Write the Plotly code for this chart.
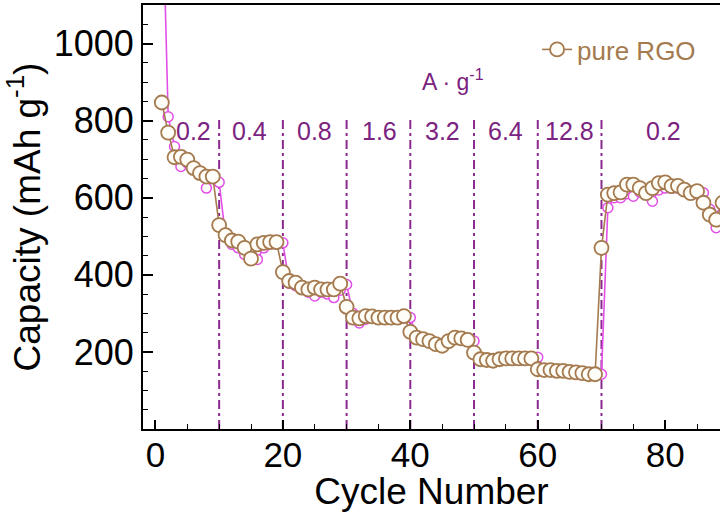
import plotly.graph_objects as go

# ---------------- data ----------------
cycles = list(range(1, 90))

pure_rgo = [847, 769, 705, 706, 699, 677, 664, 655, 655,
            529, 503, 489, 486, 470, 442, 479, 483, 485, 485,
            407, 384, 380, 367, 362, 367, 362, 362, 362, 377,
            317, 289, 287, 293, 292, 289, 289, 289, 289, 293,
            252, 237, 233, 228, 220, 216, 228, 237, 235, 231,
            198, 181, 179, 177, 181, 183, 183, 183, 183, 183,
            155, 153, 153, 151, 151, 148, 147, 145, 142, 142,
            470, 608, 612, 614, 634, 634, 625, 612, 625, 638,
            640, 630, 631, 621, 612, 617, 587, 556, 543, 587]

second_series = [1450, 810, 733, 681, 690, 680, 665, 625, 650, 640,
                 500, 479, 470, 453, 460, 440, 470, 480, 480, 483,
                 378, 372, 365, 355, 345, 355, 350, 341, 360, 375,
                 300, 275, 285, 290, 288, 287, 287, 287, 288, 289,
                 240, 230, 226, 220, 215, 225, 233, 232, 230, 228,
                 185, 180, 176, 180, 182, 182, 182, 182, 183, 186,
                 155, 152, 152, 150, 150, 147, 146, 144, 142, 142,
                 574, 600, 600, 610, 604, 615, 620, 591, 620, 625,
                 625, 625, 620, 615, 610, 613, 570, 522, 560]

rate_boundaries = [10, 20, 30, 40, 50, 60, 70]
rate_labels = ["0.2", "0.4", "0.8", "1.6", "3.2", "6.4", "12.8", "0.2"]
rate_label_x = [6.0, 14.8, 25.0, 35.2, 45.1, 54.9, 65.0, 79.7]
rate_label_y = 774
boundary_top = 805

x_ticks = [0, 20, 40, 60, 80]
y_ticks = [200, 400, 600, 800, 1000]

# ---------------- style ----------------
BROWN = "#A47A4E"
MAGENTA = "#E24FE6"
PURPLE_LINE = "#8A2A8E"
PURPLE_TEXT = "#7B2380"
FONT = "Liberation Sans, Arial, Helvetica, sans-serif"

fig = go.Figure()

fig.add_trace(go.Scatter(
    x=cycles, y=second_series, mode="lines+markers",
    line=dict(color=MAGENTA, width=1.6),
    marker=dict(symbol="circle", size=10, color="white",
                line=dict(color=MAGENTA, width=1.5)),
    showlegend=False, name="",
))

fig.add_trace(go.Scatter(
    x=cycles, y=pure_rgo, mode="lines+markers",
    line=dict(color=BROWN, width=1.6),
    marker=dict(symbol="circle", size=14, color="#FFFDF7",
                line=dict(color=BROWN, width=1.8)),
    name="pure RGO",
))

for xb in rate_boundaries:
    fig.add_shape(type="line", xref="x", yref="y",
                  x0=xb, x1=xb, y0=0, y1=boundary_top,
                  line=dict(color=PURPLE_LINE, width=2, dash="9px,4px,3px,4px"),
                  layer="below")

for lx, lt in zip(rate_label_x, rate_labels):
    fig.add_annotation(x=lx, y=rate_label_y, xref="x", yref="y", text=lt,
                       showarrow=False,
                       font=dict(family=FONT, size=25, color=PURPLE_TEXT))

fig.add_annotation(x=46.7, y=905, xref="x", yref="y",
                   text="A · g<sup>-1</sup>", showarrow=False,
                   font=dict(family=FONT, size=23, color=PURPLE_TEXT))

fig.update_layout(
    template="none",
    width=720, height=512,
    margin=dict(l=143, r=0, t=5, b=83, autoexpand=False),
    paper_bgcolor="white", plot_bgcolor="white",
    font=dict(family=FONT, color="black"),
    legend=dict(x=0.683, y=0.895, xanchor="left", yanchor="middle",
                bgcolor="rgba(0,0,0,0)",
                font=dict(family=FONT, size=26, color=BROWN),
                itemwidth=30),
    xaxis=dict(
        automargin=False,
        range=[-1.95, 88.6], showgrid=False, zeroline=False,
        showline=True, linecolor="black", linewidth=2, mirror=True,
        ticks="inside", ticklen=9, tickwidth=1.5, tickcolor="black",
        tickvals=x_ticks, ticktext=[str(v) for v in x_ticks],
        ticklabelstandoff=-6,
        minor=dict(dtick=5, tick0=0, ticks="inside", ticklen=5,
                   tickwidth=1.2, tickcolor="black", showgrid=False),
        tickfont=dict(family=FONT, size=35, color="black"),
        title=dict(text="Cycle Number", standoff=1,
                   font=dict(family=FONT, size=37, color="black")),
    ),
    yaxis=dict(
        automargin=False,
        range=[0, 1100], showgrid=False, zeroline=False,
        showline=True, linecolor="black", linewidth=2, mirror=False,
        ticks="inside", ticklen=10, tickwidth=1.5, tickcolor="black",
        tickvals=y_ticks, ticktext=[str(v) for v in y_ticks],
        minor=dict(dtick=50, tick0=0, ticks="inside", ticklen=5,
                   tickwidth=1.2, tickcolor="black", showgrid=False),
        tickfont=dict(family=FONT, size=36, color="black"),
        title=dict(text="Capacity (mAh g<sup>-1</sup>)", standoff=2,
                   font=dict(family=FONT, size=37, color="black")),
    ),
)

fig.write_html("out.html", config={"displayModeBar": False},
               post_script="document.body.style.margin='0';document.body.style.overflow='hidden';")
